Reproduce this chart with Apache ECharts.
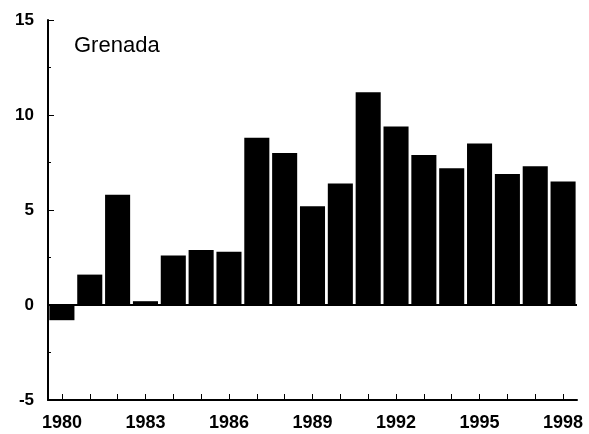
<!DOCTYPE html>
<html>
<head>
<meta charset="utf-8">
<script src="https://cdn.jsdelivr.net/npm/echarts@6/dist/echarts.min.js"></script>
<style>
  html, body { margin: 0; padding: 0; background: #fff; }
  #chart { width: 589px; height: 434px; }
</style>
</head>
<body>
<div id="chart"></div>
<script>
var years = ["1980", "1981", "1982", "1983", "1984", "1985", "1986", "1987", "1988", "1989",
             "1990", "1991", "1992", "1993", "1994", "1995", "1996", "1997", "1998"];
var values = [-0.8, 1.6, 5.8, 0.2, 2.6, 2.9, 2.8, 8.8, 8.0, 5.2,
              6.4, 11.2, 9.4, 7.9, 7.2, 8.5, 6.9, 7.3, 6.5];
var yTicks = [-5, 0, 5, 10, 15];

var chart = echarts.init(document.getElementById("chart"));

var option = {
  animation: false,
  backgroundColor: "#fff",
  title: {
    text: "Grenada",
    left: 69,
    top: 30,
    textStyle: { fontFamily: "Liberation Sans", fontSize: 22, fontWeight: "normal", color: "#000" }
  },
  grid: { left: 48, right: 12, top: 20, bottom: 34 },
  xAxis: {
    type: "category",
    data: years,
    axisLine: { onZero: false, lineStyle: { color: "#000", width: 2 } },
    axisTick: { show: true, inside: true, alignWithLabel: true, interval: 0, length: 6, lineStyle: { color: "#000", width: 1 } },
    axisLabel: {
      interval: 2,
      margin: 14,
      color: "#000",
      fontFamily: "Liberation Sans",
      fontWeight: "bold",
      fontSize: 18
    }
  },
  yAxis: {
    type: "value",
    min: yTicks[0],
    max: yTicks[yTicks.length - 1],
    interval: 5,
    splitLine: { show: false },
    axisLine: { show: true, lineStyle: { color: "#000", width: 2 } },
    axisTick: { show: true, inside: true, length: 6, lineStyle: { color: "#000" } },
    minorTick: { show: true, splitNumber: 2, length: 3, lineStyle: { color: "#000" } },
    axisLabel: {
      margin: 14,
      color: "#000",
      fontFamily: "Liberation Sans",
      fontWeight: "bold",
      fontSize: 17
    }
  },
  series: [
    {
      type: "bar",
      data: values,
      barCategoryGap: "10%",
      itemStyle: { color: "#000" },
      markLine: {
        silent: true,
        symbol: "none",
        label: { show: false },
        lineStyle: { color: "#000", width: 2, type: "solid" },
        data: [{ yAxis: 0 }]
      }
    }
  ]
};

chart.setOption(option);
</script>
</body>
</html>
